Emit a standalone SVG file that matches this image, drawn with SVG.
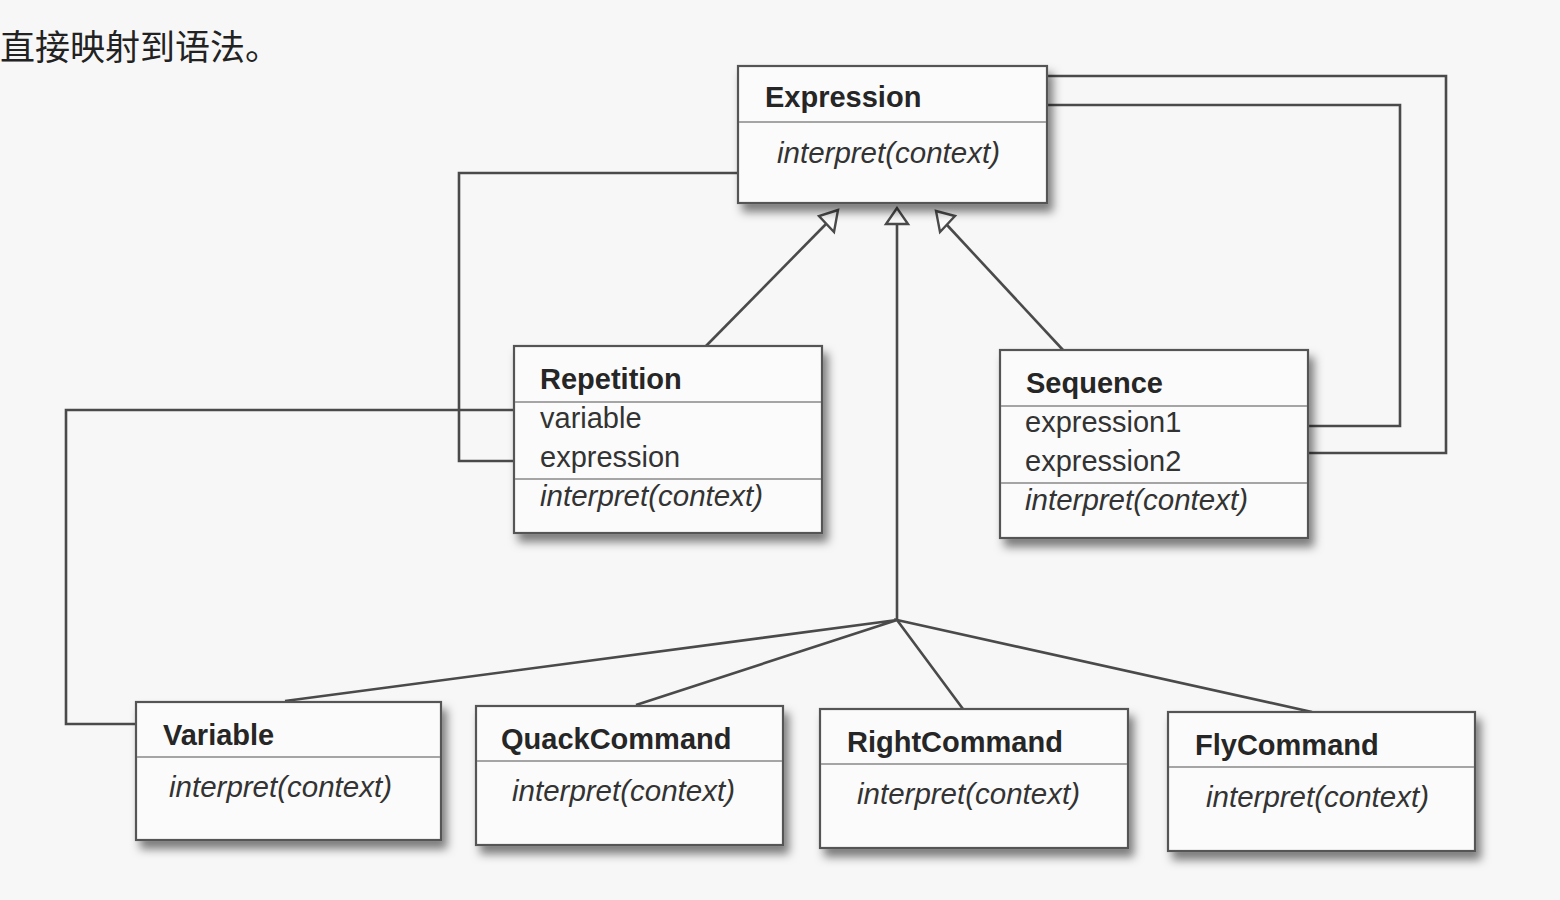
<svg xmlns="http://www.w3.org/2000/svg" width="1560" height="900" viewBox="0 0 1560 900">
<defs>
<filter id="sh" x="-10%" y="-10%" width="130%" height="140%">
<feDropShadow dx="5" dy="8" stdDeviation="5" flood-color="#000" flood-opacity="0.5"/>
</filter>
<style>
.box{fill:#fbfbfb;stroke:#555;stroke-width:2.2;filter:url(#sh)}
.div{stroke:#888;stroke-width:1.6}
.nm{font-family:"Liberation Sans",Arial,sans-serif;font-weight:bold;font-size:29px;fill:#262626}
.at{font-family:"Liberation Sans",Arial,sans-serif;font-size:29px;fill:#333}
.op{font-family:"Liberation Sans",Arial,sans-serif;font-style:italic;font-size:29.5px;fill:#333}
.ln{fill:none;stroke:#4a4a4a;stroke-width:2.6}
.tri{fill:#fbfbfb;stroke:#4a4a4a;stroke-width:2.4;stroke-linejoin:miter}
.cn{font-family:"Liberation Serif","Noto Sans CJK SC",serif;font-size:35px;fill:#222}
</style>
</defs>
<rect width="1560" height="900" fill="#f7f7f7"/>
<text class="cn" x="0" y="60">直接映射到语法。</text>

<g id="connectors">
<polyline class="ln" points="738,173 459,173 459,461 514,461"/>
<polyline class="ln" points="514,410 66,410 66,724 136,724"/>
<polyline class="ln" points="1047,76 1446,76 1446,453 1308,453"/>
<polyline class="ln" points="1047,105 1400,105 1400,426 1308,426"/>
<line class="ln" x1="706" y1="346" x2="826" y2="224"/>
<line class="ln" x1="1063" y1="350" x2="947" y2="225"/>
<line class="ln" x1="897" y1="620" x2="897" y2="224"/>
<polyline class="ln" points="285,701 897,620 636,705"/>
<polyline class="ln" points="963,709 897,620 1312,712"/>
<polygon class="tri" points="897,208 886,224 908,224"/>
<polygon class="tri" points="838,210 819,216 834,232"/>
<polygon class="tri" points="936,211 955,216 940,232"/>
</g>

<g id="expression">
<rect class="box" x="738" y="66" width="309" height="137"/>
<line class="div" x1="739" y1="122" x2="1046" y2="122"/>
<text class="nm" x="765" y="107">Expression</text>
<text class="op" x="777" y="163">interpret(context)</text>
</g>

<g id="repetition">
<rect class="box" x="514" y="346" width="308" height="187"/>
<line class="div" x1="515" y1="402" x2="821" y2="402"/>
<line class="div" x1="515" y1="479" x2="821" y2="479"/>
<text class="nm" x="540" y="389">Repetition</text>
<text class="at" x="540" y="428">variable</text>
<text class="at" x="540" y="467">expression</text>
<text class="op" x="540" y="506">interpret(context)</text>
</g>

<g id="sequence">
<rect class="box" x="1000" y="350" width="308" height="188"/>
<line class="div" x1="1001" y1="406" x2="1307" y2="406"/>
<line class="div" x1="1001" y1="483" x2="1307" y2="483"/>
<text class="nm" x="1026" y="393">Sequence</text>
<text class="at" x="1025" y="432">expression1</text>
<text class="at" x="1025" y="471">expression2</text>
<text class="op" x="1025" y="510">interpret(context)</text>
</g>

<g id="variable">
<rect class="box" x="136" y="702" width="305" height="138"/>
<line class="div" x1="137" y1="757" x2="440" y2="757"/>
<text class="nm" x="163" y="745">Variable</text>
<text class="op" x="169" y="797">interpret(context)</text>
</g>

<g id="quackcommand">
<rect class="box" x="476" y="706" width="307" height="139"/>
<line class="div" x1="477" y1="761" x2="782" y2="761"/>
<text class="nm" x="501" y="749">QuackCommand</text>
<text class="op" x="512" y="801">interpret(context)</text>
</g>

<g id="rightcommand">
<rect class="box" x="820" y="709" width="308" height="139"/>
<line class="div" x1="821" y1="764" x2="1127" y2="764"/>
<text class="nm" x="847" y="752">RightCommand</text>
<text class="op" x="857" y="804">interpret(context)</text>
</g>

<g id="flycommand">
<rect class="box" x="1168" y="712" width="307" height="139"/>
<line class="div" x1="1169" y1="767" x2="1474" y2="767"/>
<text class="nm" x="1195" y="755">FlyCommand</text>
<text class="op" x="1206" y="807">interpret(context)</text>
</g>
</svg>
